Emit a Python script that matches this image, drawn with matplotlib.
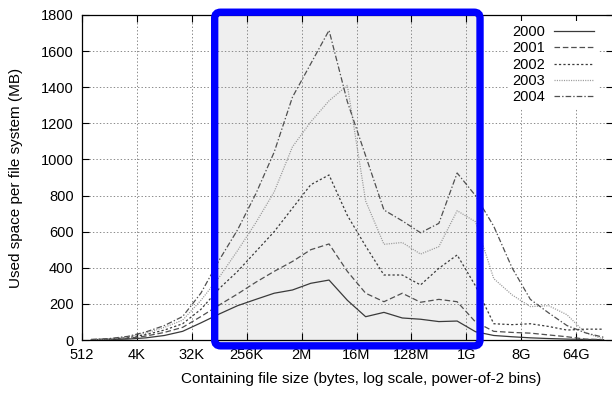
import numpy as np
import matplotlib
matplotlib.use('Agg')
import matplotlib.pyplot as plt
from matplotlib.patches import FancyBboxPatch
from matplotlib.transforms import IdentityTransform

plt.rcParams['font.family'] = ['Liberation Sans', 'DejaVu Sans']
plt.rcParams['lines.scale_dashes'] = False

# bins are powers of two, 2^9 .. 2^37, plotted at the bin centre
bin_exp = list(range(9, 38))
years = ['2000', '2001', '2002', '2003', '2004']

used_2000 = [1, 2, 5, 12, 25, 48, 95, 144, 190, 225, 259, 277, 314, 332, 220, 129, 153, 122, 115,
             102, 105, 46, 25, 18, 12, 8, 5, 3, 2]
used_2001 = [2, 4, 9, 22, 42, 70, 130, 194, 255, 320, 380, 435, 500, 532, 380, 259, 212, 259, 209,
             225, 212, 100, 48, 42, 38, 28, 18, 5, 2]
used_2002 = [2, 5, 13, 30, 55, 90, 170, 285, 380, 490, 600, 730, 860, 914, 690, 520, 360, 360, 305,
             397, 471, 300, 90, 85, 90, 75, 55, 60, 60]
used_2003 = [3, 7, 17, 38, 70, 110, 220, 348, 495, 650, 820, 1070, 1208, 1325, 1410, 770, 530, 540,
             476, 517, 716, 655, 340, 250, 185, 190, 140, 40, 5]
used_2004 = [3, 8, 20, 45, 80, 130, 260, 443, 610, 810, 1040, 1345, 1530, 1715, 1320, 1020, 720, 660,
             594, 646, 925, 800, 630, 400, 225, 150, 80, 40, 15]

tick_exp = [9, 12, 15, 18, 21, 24, 27, 30, 33, 36]
tick_labels = ['512', '4K', '32K', '256K', '2M', '16M', '128M', '1G', '8G', '64G']

series = [used_2000, used_2001, used_2002, used_2003, used_2004]
styles = [
    dict(color='#3a3a3a', ls='-'),
    dict(color='#505050', ls=(0, (4, 2))),
    dict(color='#3a3a3a', ls=(0, (1.6, 1.6))),
    dict(color='#9a9a9a', ls=(0, (0.8, 0.9))),
    dict(color='#505050', ls=(0, (4, 1.5, 1, 1.5))),
]

fig = plt.figure(figsize=(6.12, 3.93), dpi=100)
ax = fig.add_axes([82 / 612, 1 - 340 / 393, 530.7 / 612, 325 / 393])

x = 2.0 ** (np.array(bin_exp) + 0.5)
for yr, vals, st in zip(years, series, styles):
    ax.plot(x, vals, lw=0.9, label=yr, zorder=3, **st)

ax.set_xscale('log', base=2)
ax.set_xlim(2 ** 9, 2 ** 38)
ax.set_ylim(0, 1800)
ax.set_xticks([2 ** e for e in tick_exp])
ax.set_xticklabels(tick_labels)
ax.xaxis.set_minor_locator(matplotlib.ticker.NullLocator())
ax.set_yticks(range(0, 1801, 200))

ax.tick_params(direction='in', length=5, width=0.8, top=True, right=True,
               labelsize=10.5, colors='black')
ax.tick_params(axis='x', pad=6)
ax.tick_params(axis='y', pad=6)
ax.grid(True, color='#8a8a8a', ls=(0, (1, 1.5)), lw=0.7)
ax.set_axisbelow(True)
for s in ax.spines.values():
    s.set_linewidth(0.9)

ax.set_xlabel('Containing file size (bytes, log scale, power-of-2 bins)', fontsize=11)
ax.set_ylabel('Used space per file system (MB)', fontsize=11)
ax.xaxis.set_label_coords(0.526, -0.1)
ax.yaxis.set_label_coords(-0.112, 0.5)

leg = ax.legend(loc='upper right', bbox_to_anchor=(0.986, 1.005), markerfirst=False,
                fontsize=10.5, handlelength=2.7, handletextpad=0.6, labelspacing=0.16,
                borderpad=0.3, frameon=True, fancybox=False)
leg.get_frame().set_facecolor('white')
leg.get_frame().set_edgecolor('none')
leg.get_frame().set_alpha(1)
leg.set_zorder(6)

# highlighted region: grey fill with thick blue rounded frame
fig.canvas.draw()
(x0, y0) = ax.transAxes.transform((0.25, -0.018))
(x1, y1) = ax.transAxes.transform((0.75, 1.0086))
shade = FancyBboxPatch((x0, y0), x1 - x0, y1 - y0, boxstyle='round,pad=0,rounding_size=6',
                       transform=IdentityTransform(), facecolor='#efefef', edgecolor='none',
                       zorder=0.2, clip_on=False)
ax.add_patch(shade)
frame = FancyBboxPatch((x0, y0), x1 - x0, y1 - y0, boxstyle='round,pad=0,rounding_size=6',
                       transform=IdentityTransform(), facecolor='none', edgecolor='#0000ff',
                       lw=5.3, zorder=7, clip_on=False)
ax.add_patch(frame)

fig.savefig('out.png', dpi=100)
